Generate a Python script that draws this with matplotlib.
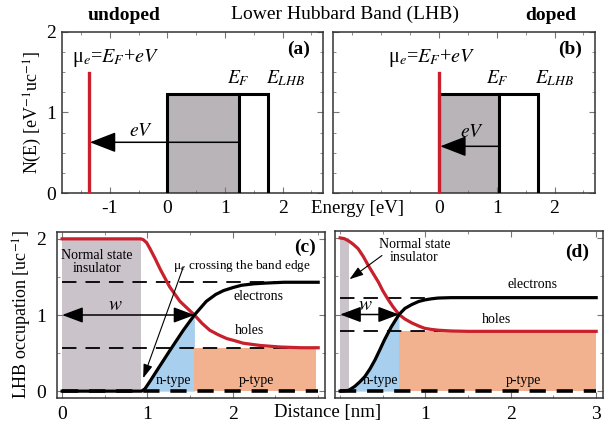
import numpy as np
import matplotlib.pyplot as plt
from matplotlib.patches import Rectangle

plt.rcParams['font.family'] = 'serif'
plt.rcParams['font.serif'] = ['Liberation Serif', 'DejaVu Serif']
plt.rcParams['mathtext.fontset'] = 'stix'

RED = '#c8202c'
GREY_BAND = '#b8b4b8'
GREY_INS = '#cbc3ca'
BLUE = '#a8cfee'
ORANGE = '#f2b290'
SPINE = '#333333'

# --- top panels: density of states of the LHB ---
band_height = 1.23
mu_top = 1.49
# undoped (a)
mu_a, ef_a, elhb_a, arrow_y_a = -1.37, 1.25, 1.75, 0.63
# doped (b)
mu_b, ef_b, elhb_b, arrow_y_b = 0.0, 1.04, 1.71, 0.58

# --- bottom panels: LHB occupation vs distance ---
# (c) undoped
c_x_el = [0, 0.93, 0.97, 1.03, 1.11, 1.26, 1.42, 1.55, 1.69, 1.80, 1.89, 2.0,
          2.1, 2.25, 2.4, 2.6, 2.8, 3.0]
c_el = [0, 0, 0.03, 0.13, 0.27, 0.53, 0.80, 1.0, 1.18, 1.27, 1.32, 1.36,
        1.39, 1.41, 1.42, 1.43, 1.43, 1.43]
c_x_h = [0, 0.92, 0.95, 0.99, 1.03, 1.09, 1.15, 1.26, 1.38, 1.55, 1.64, 1.73,
         1.83, 1.93, 2.03, 2.12, 2.32, 2.55, 2.8, 3.0]
c_h = [2, 2, 1.99, 1.95, 1.87, 1.74, 1.60, 1.37, 1.18, 1.0, 0.89, 0.80,
       0.74, 0.69, 0.66, 0.63, 0.60, 0.58, 0.57, 0.57]
c_ins_end, c_cross, c_el_bulk, c_h_bulk, c_p_end = 0.93, 1.55, 1.43, 0.57, 2.98

# (d) doped
d_x_el = [0, 0.1, 0.17, 0.23, 0.29, 0.35, 0.41, 0.47, 0.52, 0.6, 0.69, 0.76,
          0.84, 0.92, 0.99, 1.07, 1.15, 1.3, 1.5, 3.0]
d_el = [0, 0.01, 0.06, 0.12, 0.19, 0.29, 0.41, 0.55, 0.67, 0.84, 1.0, 1.08,
        1.13, 1.17, 1.19, 1.205, 1.215, 1.22, 1.22, 1.22]
d_x_h = [0, 0.05, 0.1, 0.15, 0.21, 0.27, 0.33, 0.39, 0.45, 0.5, 0.56, 0.62,
         0.69, 0.76, 0.84, 0.92, 0.99, 1.07, 1.15, 1.3, 1.5, 3.0]
d_h = [2.0, 1.99, 1.96, 1.92, 1.86, 1.76, 1.64, 1.53, 1.42, 1.31, 1.20, 1.10,
       1.0, 0.94, 0.89, 0.85, 0.82, 0.805, 0.795, 0.785, 0.78, 0.78]
d_ins_end, d_cross, d_el_bulk, d_h_bulk, d_p_end = 0.1, 0.69, 1.22, 0.78, 3.0

W, H = 610, 425
fig = plt.figure(figsize=(W / 100, H / 100), dpi=100)


def px_axes(x0, x1, y0, y1):
    return fig.add_axes([x0 / W, 1 - y1 / H, (x1 - x0) / W, (y1 - y0) / H])


def style(ax):
    for s in ax.spines.values():
        s.set_color(SPINE)
        s.set_linewidth(1.1)
    ax.tick_params(which='both', direction='in', top=True, right=True,
                   color='#777777', labelsize=14)
    ax.tick_params(which='major', length=4, width=0.8)
    ax.tick_params(which='minor', length=2.5, width=0.6)


ax_a = px_axes(62, 323, 32, 193)
ax_b = px_axes(333, 595, 32, 193)
ax_c = px_axes(57, 325, 232, 398)
ax_d = px_axes(335, 603, 231, 398)


def dos_panel(ax, mu, ef, elhb, arrow_y, tag, mu_text_x, ev_xy):
    ax.add_patch(Rectangle((0, 0), ef, band_height, facecolor=GREY_BAND,
                           edgecolor='none', zorder=1))
    ax.plot([0, 0, elhb, elhb], [0, band_height, band_height, 0],
            color='black', lw=2.2, zorder=3, solid_joinstyle='miter')
    ax.plot([ef, ef], [0, band_height], color='black', lw=2.2, zorder=3)
    ax.plot([mu, mu], [0, mu_top], color=RED, lw=2.4, zorder=4)
    ax.annotate('', xy=(mu, arrow_y), xytext=(ef, arrow_y),
                arrowprops=dict(arrowstyle='-|>,head_length=0.9,head_width=0.35',
                                color='black', lw=1.1, shrinkA=0, shrinkB=1,
                                mutation_scale=18), zorder=5)
    ax.text(mu_text_x, 1.68, 'μ$_e$=$E_F$+$eV$', fontsize=14.5, ha='center',
            va='center')
    ax.text(ef - 0.02, 1.43, '$E_F$', fontsize=14, ha='center', va='center')
    ax.text(elhb + 0.3, 1.43, '$E_{LHB}$', fontsize=14, ha='center',
            va='center')
    ax.text(ev_xy[0], ev_xy[1], '$eV$', fontsize=14, ha='center', va='center')
    ax.text(0.95, 0.89, tag, transform=ax.transAxes, fontsize=14,
            fontweight='bold', ha='right', va='center')
    ax.set_xlim(-1.83, 2.7)
    ax.set_ylim(0, 2)
    ax.set_xticks(np.arange(-1.5, 2.6, 0.5), minor=True)
    ax.set_yticks(np.arange(0, 2.01, 0.25), minor=True)
    style(ax)


dos_panel(ax_a, mu_a, ef_a, elhb_a, arrow_y_a, '(a)', -0.9, (-0.46, 0.76))
dos_panel(ax_b, mu_b, ef_b, elhb_b, arrow_y_b, '(b)', -0.13, (0.58, 0.75))
ax_a.set_xticks([-1, 0, 1, 2])
ax_a.set_xticklabels(['-1', '0', '1', '2'])
ax_a.set_yticks([0, 1, 2])
ax_b.set_xticks([0, 1, 2])
ax_b.set_yticks([0, 1, 2])
ax_b.set_yticklabels([])
ax_a.tick_params(axis='x', pad=5)
ax_b.tick_params(axis='x', pad=5)
ax_a.tick_params(axis='y', pad=4)


def occ_panel(ax, x_el, el, x_h, h, ins_end, cross, el_bulk, h_bulk, p_end):
    x_el = np.array(x_el)
    el = np.array(el)
    ax.add_patch(Rectangle((0, 0), ins_end, 2, facecolor=GREY_INS,
                           edgecolor='none', zorder=1))
    mask = (x_el >= ins_end) & (x_el <= cross)
    ax.fill_between(x_el[mask], 0, el[mask], color=BLUE, lw=0, zorder=1)
    ax.add_patch(Rectangle((cross, 0), p_end - cross, h_bulk,
                           facecolor=ORANGE, edgecolor='none', zorder=1))
    for lvl in (el_bulk, h_bulk):
        ax.plot([0, 3], [lvl, lvl], color='black', lw=1.3,
                dashes=(8, 5), zorder=2)
    ax.plot(x_h, h, color=RED, lw=2.3, zorder=3)
    ax.plot(x_el, el, color='black', lw=2.3, zorder=4)
    ax.plot([0, 3], [0, 0], color='black', lw=2.6, dashes=(4.5, 3), zorder=5)
    ax.annotate('', xy=(0, 1), xytext=(cross, 1),
                arrowprops=dict(arrowstyle='<|-|>,head_length=0.8,head_width=0.3',
                                color='black', lw=1.1, shrinkA=0, shrinkB=0,
                                mutation_scale=16), zorder=6)
    ax.set_xlim(-0.06, 3.08)
    ax.set_ylim(-0.09, 2.09)
    ax.set_xticks(np.arange(0, 3.01, 0.5), minor=True)
    ax.set_yticks(np.arange(0, 2.01, 0.5), minor=True)
    style(ax)
    ax.tick_params(axis='x', pad=6)


occ_panel(ax_c, c_x_el, c_el, c_x_h, c_h, c_ins_end, c_cross, c_el_bulk,
          c_h_bulk, c_p_end)
occ_panel(ax_d, d_x_el, d_el, d_x_h, d_h, d_ins_end, d_cross, d_el_bulk,
          d_h_bulk, d_p_end)
ax_c.set_xticks([0, 1, 2])
ax_c.set_yticks([0, 1, 2])
ax_c.tick_params(axis='y', pad=8)
ax_d.set_xticks([1, 2, 3])
ax_d.set_yticks([0, 1, 2])
ax_d.set_yticklabels([])

fs = 10
# (c) labels
ax_c.text(0.41, 1.69, 'Normal state\ninsulator', fontsize=fs, ha='center',
          va='center', linespacing=1.0)
ax_c.text(1.30, 1.64, 'μ$_e$ crossing the band edge', fontsize=9.5,
          ha='left', va='center')
ax_c.annotate('', xy=(0.95, 0.17), xytext=(1.42, 1.63),
              arrowprops=dict(arrowstyle='-|>,head_length=0.6,head_width=0.2',
                              color='black', lw=0.8, shrinkA=0, shrinkB=0,
                              mutation_scale=14))
ax_c.text(0.62, 1.12, '$w$', fontsize=14, ha='center', va='center')
ax_c.text(2.30, 1.24, 'electrons', fontsize=fs, ha='center', va='center')
ax_c.text(2.20, 0.79, 'holes', fontsize=fs, ha='center', va='center')
ax_c.text(1.30, 0.14, 'n-type', fontsize=fs, ha='center', va='center')
ax_c.text(2.28, 0.14, 'p-type', fontsize=fs, ha='center', va='center')
ax_c.text(0.965, 0.905, '(c)', transform=ax_c.transAxes, fontsize=14,
          fontweight='bold', ha='right', va='center')

# (d) labels
ax_d.text(0.87, 1.83, 'Normal state\ninsulator', fontsize=fs, ha='center',
          va='center', linespacing=1.0)
ax_d.annotate('', xy=(0.11, 1.46), xytext=(0.49, 1.77),
              arrowprops=dict(arrowstyle='-|>,head_length=0.6,head_width=0.2',
                              color='black', lw=0.8, shrinkA=0, shrinkB=0,
                              mutation_scale=14))
ax_d.text(0.29, 1.12, '$w$', fontsize=14, ha='center', va='center')
ax_d.text(2.25, 1.39, 'electrons', fontsize=fs, ha='center', va='center')
ax_d.text(1.83, 0.94, 'holes', fontsize=fs, ha='center', va='center')
ax_d.text(0.47, 0.14, 'n-type', fontsize=fs, ha='center', va='center')
ax_d.text(2.15, 0.14, 'p-type', fontsize=fs, ha='center', va='center')
ax_d.text(0.95, 0.87, '(d)', transform=ax_d.transAxes, fontsize=14,
          fontweight='bold', ha='right', va='center')

# figure-level text
fig.text(345 / W, 1 - 14 / H, 'Lower Hubbard Band (LHB)', fontsize=14,
         ha='center', va='center')
fig.text(124 / W, 1 - 15 / H, 'undoped', fontsize=14, fontweight='bold',
         ha='center', va='center')
fig.text(551 / W, 1 - 15 / H, 'doped', fontsize=14, fontweight='bold',
         ha='center', va='center')
fig.text(357 / W, 1 - 209 / H, 'Energy [eV]', fontsize=13.5, ha='center',
         va='center')
fig.text(328 / W, 1 - 412 / H, 'Distance [nm]', fontsize=13.5, ha='center',
         va='center')
fig.text(33 / W, 1 - 112 / H, 'N(E) [eV$^{-1}$uc$^{-1}$]', fontsize=13,
         rotation=90, ha='center', va='center')
fig.text(22 / W, 1 - 314 / H, 'LHB occupation [uc$^{-1}$]', fontsize=13,
         rotation=90, ha='center', va='center')

fig.savefig('out.png', dpi=100)
